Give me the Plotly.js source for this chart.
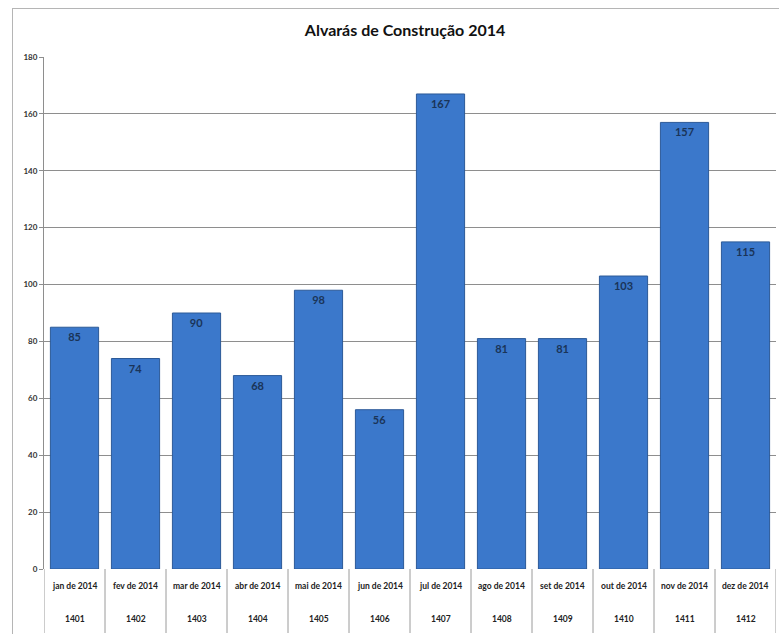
<!DOCTYPE html>
<html><head><meta charset="utf-8">
<script src="https://cdn.plot.ly/plotly-3.0.1.min.js"></script>
<style>
html,body{margin:0;padding:0;background:#fff;overflow:hidden;}
#frame{position:absolute;left:12px;top:8px;width:900px;height:800px;border:1px solid #b5b5b5;box-sizing:border-box;}
#chart{position:absolute;left:0;top:0;width:779px;height:634px;}
</style></head>
<body>
<div id="frame"></div>
<div id="chart"></div>
<script>
const months = ["jan de 2014","fev de 2014","mar de 2014","abr de 2014","mai de 2014","jun de 2014","jul de 2014","ago de 2014","set de 2014","out de 2014","nov de 2014","dez de 2014"];
const codes = ["1401","1402","1403","1404","1405","1406","1407","1408","1409","1410","1411","1412"];
const values = [85,74,90,68,98,56,167,81,81,103,157,115];
const yTicks = [0,20,40,60,80,100,120,140,160,180];

const idx = months.map((m,i)=>i);
const font = "Lato, 'Open Sans', sans-serif";

const shapes = [];
for (let i = 0; i <= months.length; i++) {
  shapes.push({type:'line', xref:'x', yref:'paper', x0:i-0.5, x1:i-0.5, y0:0, y1:-0.125,
    line:{color:'#9a9a9a', width:1}});
}
const annotations = [];
idx.forEach(i=>{
  annotations.push({x:i, y:0, xref:'x', yref:'paper', yanchor:'middle', yshift:-17, text:months[i], showarrow:false,
    font:{family:font, size:8.5, color:'#222', weight:'bold'}});
  annotations.push({x:i, y:0, xref:'x', yref:'paper', yanchor:'middle', yshift:-50, text:codes[i], showarrow:false,
    font:{family:font, size:8.5, color:'#222', weight:'bold'}});
});

Plotly.newPlot('chart', [{
  type:'bar', x:idx, y:values, text:values.map(String),
  textposition:'inside', insidetextanchor:'end', textangle:0,
  textfont:{family:font, size:11, color:'#1a3458', weight:'bold'},
  marker:{color:'#3b78cb', line:{color:'#2c5a98', width:1}},
  width:0.79, hoverinfo:'none'
}], {
  width:779, height:634,
  margin:{l:44, r:3, t:57, b:65},
  paper_bgcolor:'rgba(0,0,0,0)', plot_bgcolor:'rgba(0,0,0,0)',
  title:{text:'Alvarás de Construção 2014', x:0.52, xanchor:'center', y:0.952, yanchor:'middle',
    font:{family:font, size:16, color:'#111', weight:'bold'}},
  xaxis:{range:[-0.5,11.5], showticklabels:false, showgrid:false, zeroline:false, ticks:'',
    showline:false, fixedrange:true},
  yaxis:{range:[0,180], tickvals:yTicks, ticktext:yTicks.map(String), showgrid:true, gridcolor:'#8e8e8e', gridwidth:1,
    zeroline:false, showline:true, linecolor:'#8e8e8e', linewidth:1, ticks:'outside', ticklen:4, tickcolor:'#8e8e8e',
    tickfont:{family:font, size:8, color:'#333', weight:'bold'}, fixedrange:true},
  shapes:shapes, annotations:annotations, showlegend:false
}, {displayModeBar:false, staticPlot:true});
</script>
</body></html>
